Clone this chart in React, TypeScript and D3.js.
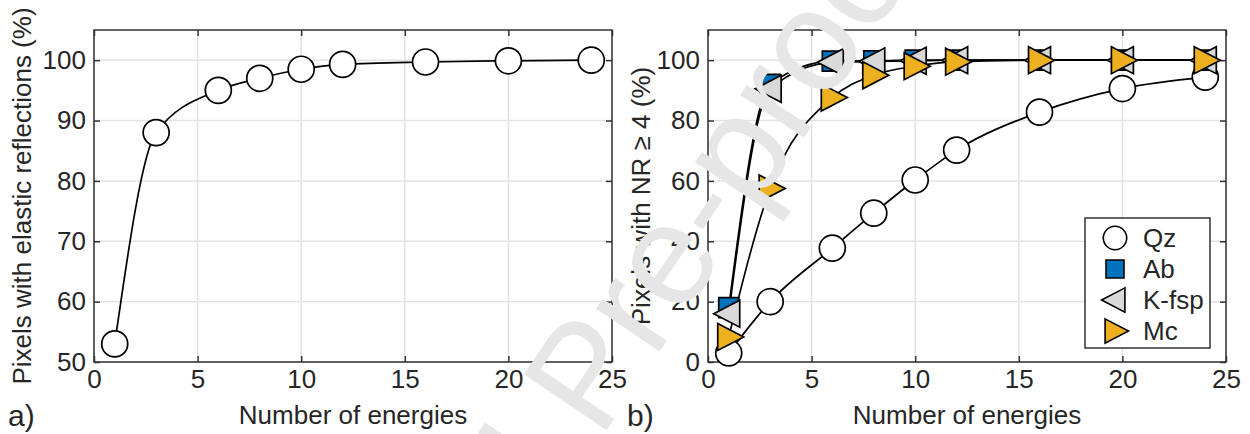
import React, { useRef, useEffect } from 'react';
import * as d3 from 'd3';

// energies used for every series
const energies = [1, 3, 6, 8, 10, 12, 16, 20, 24];

// panel a) pixels with elastic reflections (%)
const elastic = [53, 88, 95, 97, 98.5, 99.3, 99.7, 99.9, 100];

// panel b) pixels with NR >= 4 (%)
const qz = [3, 20, 37.7, 49.3, 60.3, 70.2, 82.8, 90.6, 94.4];
const ab = [18, 92, 99.7, 99.8, 100, 100, 100, 100, 100];
const kfsp = [16, 90.5, 99.3, 99.6, 99.8, 100, 100, 100, 100];
const mc = [8.3, 57.5, 87.6, 95, 98, 99.5, 100, 100, 100];

const xTicks = [0, 5, 10, 15, 20, 25];
const yTicksA = [50, 60, 70, 80, 90, 100];
const yTicksB = [0, 20, 40, 60, 80, 100];

const FONT = '"Liberation Sans", Arial, Helvetica, sans-serif';
const INK = '#262626';

const seriesB = [
  { name: 'Qz', values: qz, shape: 'circle', fill: '#ffffff' },
  { name: 'Ab', values: ab, shape: 'square', fill: '#0072BD' },
  { name: 'K-fsp', values: kfsp, shape: 'left', fill: '#d9d9d9' },
  { name: 'Mc', values: mc, shape: 'right', fill: '#EDB120' },
];

function markerPath(shape: string, s = 1) {
  if (shape === 'square') return `M${-10 * s},${-10 * s}h${20 * s}v${20 * s}h${-20 * s}Z`;
  if (shape === 'right') return `M${-11 * s},${-13.5 * s}L${15 * s},0L${-11 * s},${13.5 * s}Z`;
  if (shape === 'left') return `M${11 * s},${-13.5 * s}L${-15 * s},0L${11 * s},${13.5 * s}Z`;
  return d3.symbol(d3.symbolCircle, Math.PI * (13 * s) ** 2)() as string;
}

function drawFrame(g: any, x: any, y: any, yTicks: number[]) {
  const [x0, x1] = x.range();
  const [y1, y0] = y.range();

  g.append('g')
    .selectAll('line.gx')
    .data(xTicks)
    .join('line')
    .attr('x1', (d: number) => x(d)).attr('x2', (d: number) => x(d))
    .attr('y1', y0).attr('y2', y1)
    .attr('stroke', '#e3e3e3').attr('stroke-width', 1.5);
  g.append('g')
    .selectAll('line.gy')
    .data(yTicks)
    .join('line')
    .attr('x1', x0).attr('x2', x1)
    .attr('y1', (d: number) => y(d)).attr('y2', (d: number) => y(d))
    .attr('stroke', '#e3e3e3').attr('stroke-width', 1.5);

  // box with inward ticks on all four sides
  const axes = [
    { a: d3.axisBottom(x).tickValues(xTicks).tickSizeInner(-6).tickSizeOuter(0), t: `translate(0,${y1})`, labels: true },
    { a: d3.axisTop(x).tickValues(xTicks).tickSizeInner(-6).tickSizeOuter(0), t: `translate(0,${y0})`, labels: false },
    { a: d3.axisLeft(y).tickValues(yTicks).tickSizeInner(-6).tickSizeOuter(0), t: `translate(${x0},0)`, labels: true },
    { a: d3.axisRight(y).tickValues(yTicks).tickSizeInner(-6).tickSizeOuter(0), t: `translate(${x1},0)`, labels: false },
  ];
  axes.forEach(({ a, t, labels }) => {
    const ax = g.append('g').attr('transform', t).call(a.tickPadding(8));
    ax.selectAll('path').attr('stroke', '#333').attr('stroke-width', 1.5);
    ax.selectAll('line').attr('stroke', '#333').attr('stroke-width', 1.5);
    ax.selectAll('text')
      .attr('font-family', FONT).attr('font-size', 26).attr('fill', INK)
      .attr('opacity', labels ? 1 : 0);
  });
  g.selectAll('.domain').remove();
  g.append('rect')
    .attr('x', x0).attr('y', y0).attr('width', x1 - x0).attr('height', y1 - y0)
    .attr('fill', 'none').attr('stroke', '#333').attr('stroke-width', 1.5);
}

const App = () => {
  const ref = useRef<SVGSVGElement>(null);

  useEffect(() => {
    const svg = d3.select(ref.current);
    svg.selectAll('*').remove();

    const line = (x: any, y: any) =>
      d3.line<number>()
        .x((_, i) => x(energies[i]))
        .y((d) => y(d))
        .curve(d3.curveMonotoneX);

    // ---- panel a
    const xa = d3.scaleLinear().domain([0, 25]).range([94, 612]);
    const ya = d3.scaleLinear().domain([50, 105]).range([362, 30]);
    const ga = svg.append('g');
    drawFrame(ga, xa, ya, yTicksA);
    ga.append('path')
      .attr('d', line(xa, ya)(elastic))
      .attr('fill', 'none').attr('stroke', '#000').attr('stroke-width', 1.7);
    ga.append('g')
      .selectAll('path')
      .data(elastic)
      .join('path')
      .attr('d', markerPath('circle'))
      .attr('transform', (d, i) => `translate(${xa(energies[i])},${ya(d)})`)
      .attr('fill', '#fff').attr('stroke', '#000').attr('stroke-width', 1.7);

    // ---- panel b
    const xb = d3.scaleLinear().domain([0, 25]).range([708, 1226]);
    const yb = d3.scaleLinear().domain([0, 110]).range([362, 30]);
    const gb = svg.append('g');
    drawFrame(gb, xb, yb, yTicksB);
    seriesB.forEach((s) => {
      gb.append('path')
        .attr('d', line(xb, yb)(s.values))
        .attr('fill', 'none').attr('stroke', '#000').attr('stroke-width', 1.7);
    });
    seriesB.forEach((s) => {
      gb.append('g')
        .selectAll('path')
        .data(s.values)
        .join('path')
        .attr('d', markerPath(s.shape))
        .attr('transform', (d, i) => `translate(${xb(energies[i])},${yb(d)})`)
        .attr('fill', s.fill).attr('stroke', '#000').attr('stroke-width', 1.7)
        .attr('stroke-linejoin', 'miter');
    });

    // legend
    const lg = gb.append('g').attr('transform', 'translate(1085,218)');
    lg.append('rect').attr('width', 125).attr('height', 130)
      .attr('fill', '#fff').attr('stroke', '#333').attr('stroke-width', 1.5);
    seriesB.forEach((s, i) => {
      const row = lg.append('g').attr('transform', `translate(30,${20 + i * 31})`);
      row.append('path').attr('d', markerPath(s.shape, 0.9))
        .attr('fill', s.fill).attr('stroke', '#000').attr('stroke-width', 1.6);
      row.append('text').attr('x', 28).attr('y', 9)
        .attr('font-family', FONT).attr('font-size', 26).attr('fill', INK)
        .text(s.name);
    });

    // axis titles and panel letters
    const txt = (x: number, y: number, s: string, size = 26, anchor = 'middle', rot = 0) =>
      svg.append('text')
        .attr('transform', `translate(${x},${y}) rotate(${rot})`)
        .attr('text-anchor', anchor)
        .attr('font-family', FONT).attr('font-size', size).attr('fill', INK)
        .text(s);
    txt(353, 424, 'Number of energies');
    txt(967, 424, 'Number of energies');
    txt(31, 196, 'Pixels with elastic reflections (%)', 26, 'middle', -90);
    txt(650, 196, 'Pixels with NR \u2265 4 (%)', 26, 'middle', -90);
    txt(8, 426, 'a)', 30, 'start');
    txt(627, 426, 'b)', 30, 'start');

    // "Journal Pre-proof" watermark over the figure
    const wm = svg.append('g').attr('transform', 'translate(600,440) rotate(-56)');
    wm.append('text').attr('x', -40).attr('text-anchor', 'end')
      .attr('font-family', FONT).attr('font-size', 145).attr('fill', '#e6e6e6')
      .text('Journal');
    wm.append('text').attr('x', 0).attr('text-anchor', 'start')
      .attr('font-family', FONT).attr('font-size', 145).attr('fill', '#e6e6e6')
      .text('Pre-proof');
  }, []);

  return (
    <svg
      ref={ref}
      width={1250}
      height={434}
      viewBox="0 0 1250 434"
      style={{ position: 'absolute', left: 0, top: 0, background: '#fff' }}
    />
  );
};

export default App;
